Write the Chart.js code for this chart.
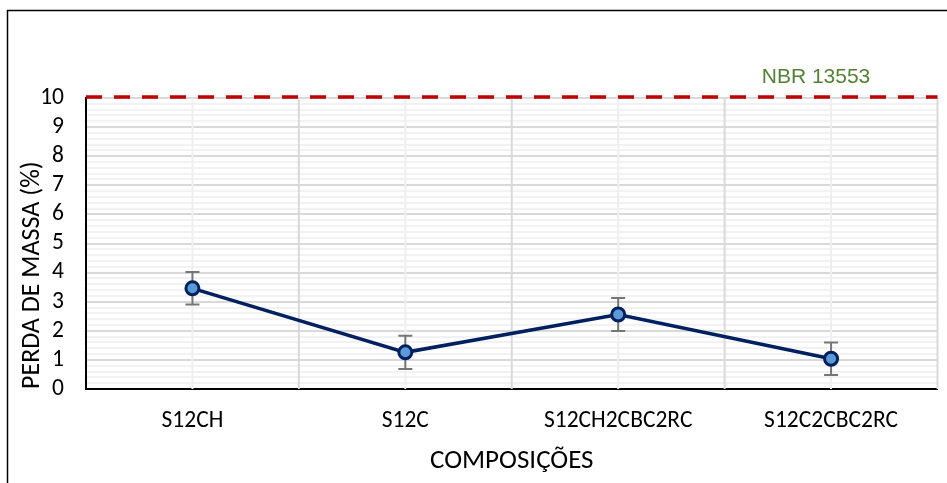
<!DOCTYPE html>
<html>
<head>
<meta charset="utf-8">
<script src="https://cdn.jsdelivr.net/npm/chart.js@4/dist/chart.umd.min.js"></script>
<style>
  html, body { margin: 0; padding: 0; background: #ffffff; }
  #wrap { width: 947px; height: 483px; position: relative; }
</style>
</head>
<body>
<div id="wrap"><canvas id="c" width="947" height="483"></canvas></div>
<script>
// Mass loss per composition, with standard deviation
const composicoes = ['S12CH', 'S12C', 'S12CH2CBC2RC', 'S12C2CBC2RC'];
const perdaMassa = [3.46, 1.26, 2.56, 1.04];
const desvio = [0.56, 0.57, 0.57, 0.56];
const limiteNBR = 10;
const rotuloNBR = 'NBR 13553';
const yTicks = [0, 1, 2, 3, 4, 5, 6, 7, 8, 9, 10];

const FONT = "Calibri, Carlito, Lato, 'Open Sans', sans-serif";

// frame, vertical grid, limit line
const decor = {
  id: 'decor',
  beforeDraw(chart) {
    const { ctx } = chart;
    ctx.save();
    ctx.strokeStyle = '#000000';
    ctx.lineWidth = 1.5;
    ctx.strokeRect(7.5, 10.5, 1200, 1200);
    ctx.restore();
  },
  beforeDatasetsDraw(chart) {
    const { ctx, chartArea: a, scales: { x } } = chart;
    ctx.save();
    const n = composicoes.length;
    const w = (a.right - a.left) / n;
    for (let i = 0; i < n; i++) {
      const cx = x.getPixelForValue(i);
      ctx.strokeStyle = '#efefef';
      ctx.lineWidth = 2;
      ctx.beginPath(); ctx.moveTo(cx, a.top); ctx.lineTo(cx, a.bottom); ctx.stroke();
      if (i > 0) {
        const bx = cx - w / 2;
        ctx.strokeStyle = '#d9d9d9';
        ctx.lineWidth = 2;
        ctx.beginPath(); ctx.moveTo(bx, a.top); ctx.lineTo(bx, a.bottom); ctx.stroke();
      }
    }
    ctx.strokeStyle = '#d9d9d9';
    ctx.lineWidth = 2;
    ctx.beginPath(); ctx.moveTo(a.right, a.top); ctx.lineTo(a.right, a.bottom); ctx.stroke();
    ctx.restore();
  },
  afterDatasetsDraw(chart) {
    const { ctx, chartArea: a, scales: { y } } = chart;
    const yy = y.getPixelForValue(limiteNBR) - 1;
    ctx.save();
    ctx.strokeStyle = '#c00000';
    ctx.lineWidth = 3.5;
    ctx.setLineDash([16, 12]);
    ctx.beginPath(); ctx.moveTo(a.left, yy); ctx.lineTo(a.right, yy); ctx.stroke();
    ctx.setLineDash([]);
    ctx.fillStyle = '#548235';
    ctx.font = "21px 'Liberation Sans', Arial, sans-serif";
    ctx.textAlign = 'center';
    ctx.textBaseline = 'middle';
    ctx.fillText(rotuloNBR, 816, 77);
    ctx.restore();
  }
};

// standard deviation whiskers
const errorBars = {
  id: 'errorBars',
  beforeDatasetsDraw(chart) {
    const { ctx, scales: { x, y } } = chart;
    ctx.save();
    ctx.strokeStyle = '#767676';
    ctx.lineWidth = 2;
    perdaMassa.forEach((v, i) => {
      const px = x.getPixelForValue(i);
      const top = y.getPixelForValue(v + desvio[i]);
      const bot = y.getPixelForValue(v - desvio[i]);
      ctx.beginPath();
      ctx.moveTo(px, top); ctx.lineTo(px, bot);
      ctx.moveTo(px - 7, top); ctx.lineTo(px + 7, top);
      ctx.moveTo(px - 7, bot); ctx.lineTo(px + 7, bot);
      ctx.stroke();
    });
    ctx.restore();
  }
};

new Chart(document.getElementById('c'), {
  type: 'line',
  data: {
    labels: composicoes,
    datasets: [{
      data: perdaMassa,
      borderColor: '#002060',
      borderWidth: 3.5,
      pointRadius: 6.5,
      pointBorderWidth: 3,
      pointBackgroundColor: '#5b9bd5',
      pointBorderColor: '#002060',
      tension: 0,
      fill: false
    }]
  },
  options: {
    responsive: false,
    animation: false,
    events: [],
    layout: { padding: { left: 0, right: 4, top: 98, bottom: 0 } },
    plugins: { legend: { display: false }, tooltip: { enabled: false } },
    scales: {
      x: {
        offset: true,
        afterFit(s) { s.height = 94; },
        grid: { display: false, drawTicks: false },
        border: { display: true, color: '#000000', width: 2 },
        ticks: { color: '#000000', padding: 18, maxRotation: 0, font: { family: FONT, size: 23.5 } },
        title: {
          display: true, text: 'COMPOSIÇÕES', color: '#000000',
          font: { family: FONT, size: 27 }, padding: 6
        }
      },
      y: {
        min: 0, max: 10,
        afterFit(s) { s.width = 86; },
        afterBuildTicks(s) {
          const t = [];
          for (let k = 0; k <= 50; k++) t.push({ value: k / 5 });
          s.ticks = t;
        },
        grid: {
          drawTicks: false,
          lineWidth: 2,
          color(c) {
            const v = c.tick ? c.tick.value : 0;
            return Math.abs(v - Math.round(v)) < 1e-6 ? '#d9d9d9' : '#f2f2f2';
          }
        },
        border: { display: true, color: '#000000', width: 2 },
        ticks: {
          autoSkip: false,
          color: '#000000',
          padding: 22,
          font: { family: FONT, size: 23.5 },
          callback(v) {
            const r = Math.round(v);
            return (Math.abs(v - r) < 1e-6 && yTicks.includes(r)) ? String(r) : '';
          }
        },
        title: {
          display: true, text: 'PERDA DE MASSA (%)', color: '#000000',
          align: 'start',
          font: { family: FONT, size: 26 }, padding: { top: 17, bottom: 0 }
        }
      }
    }
  },
  plugins: [decor, errorBars]
});
</script>
</body>
</html>
